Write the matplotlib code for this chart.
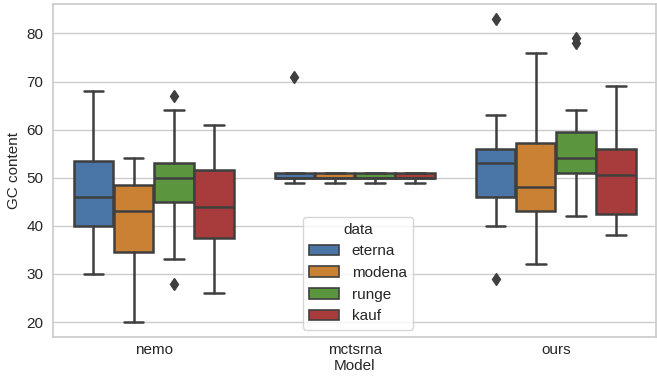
import numpy as np
import matplotlib.pyplot as plt
import seaborn as sns

models = ['nemo', 'mctsrna', 'ours']
datasets = ['eterna', 'modena', 'runge', 'kauf']

# box summaries, indexed [model][dataset]
q1 = [[40, 34.5, 45, 37.5], [50, 50, 50, 50], [46, 43, 51, 42.5]]
med = [[46, 43, 50, 44], [50, 50, 50, 50], [53, 48, 54, 50.5]]
q3 = [[53.5, 48.5, 53, 51.5], [51, 51, 51, 51], [56, 57.2, 59.5, 56]]
whislo = [[30, 20, 33, 26], [49, 49, 49, 49], [40, 32, 42, 38]]
whishi = [[68, 54, 64, 61], [51, 51, 51, 51], [63, 76, 64, 69]]
fliers = [[[], [], [67, 28], []],
          [[71], [], [], []],
          [[83, 29], [], [79, 78], []]]

sns.set_theme(style='whitegrid')
plt.rcParams['font.family'] = ['Liberation Sans', 'DejaVu Sans']

fig, ax = plt.subplots(figsize=(6.57, 3.84), dpi=100)
fig.subplots_adjust(left=0.081, right=0.999, top=0.99, bottom=0.122)

pal = ['#4a76a7', '#cb8133', '#5b963e', '#a83b3c']
gray = '#3f3f3f'
w = 0.2

for i, m in enumerate(models):
    for j, d in enumerate(datasets):
        st = dict(q1=q1[i][j], med=med[i][j], q3=q3[i][j],
                  whislo=whislo[i][j], whishi=whishi[i][j],
                  fliers=np.array(fliers[i][j], dtype=float))
        pos = i - 0.3 + j * w
        ax.bxp([st], positions=[pos], widths=w * 0.98, patch_artist=True,
               showfliers=True, manage_ticks=False,
               boxprops=dict(facecolor=pal[j], edgecolor=gray, linewidth=1.8),
               medianprops=dict(color=gray, linewidth=1.8),
               whiskerprops=dict(color=gray, linewidth=1.8),
               capprops=dict(color=gray, linewidth=1.8),
               flierprops=dict(marker='d', markerfacecolor=gray,
                               markeredgecolor=gray, markersize=6))

ax.set_xlim(-0.5, 2.5)
ax.set_ylim(16.85, 86.15)
ax.set_xticks(range(len(models)))
ax.set_xticklabels(models)
ax.set_yticks([20, 30, 40, 50, 60, 70, 80])
ax.tick_params(labelsize=11, length=0, colors='#262626')
ax.tick_params(axis='x', pad=4)
ax.tick_params(axis='y', pad=7)
ax.xaxis.grid(False)
ax.set_xlabel('Model', fontsize=11, labelpad=2, color='#262626')
ax.set_ylabel('GC content', fontsize=11, labelpad=4, color='#262626')

handles = [plt.Rectangle((0, 0), 1, 1, facecolor=pal[j], edgecolor=gray,
                         linewidth=1.2) for j in range(4)]
ax.legend(handles, datasets, title='data', loc='lower center',
          fontsize=11, title_fontsize=11, bbox_to_anchor=(0.505, 0.0))

fig.savefig('out.png')
